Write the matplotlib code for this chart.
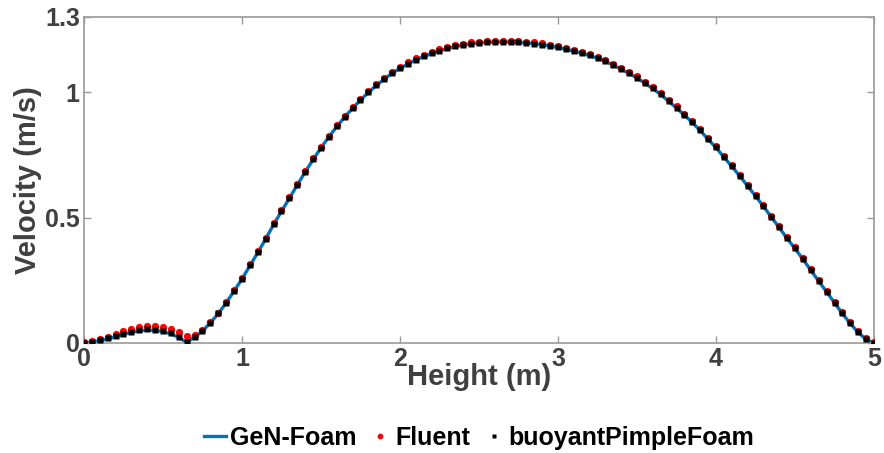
import numpy as np
import matplotlib.pyplot as plt

# Heights (m), sampled every 0.05 m
height = np.linspace(0, 5, 101)

# buoyantPimpleFoam (black squares)
bpf = [0.000, 0.004, 0.010, 0.019, 0.028, 0.037, 0.045, 0.051, 0.054, 0.053,
       0.048, 0.039, 0.025, 0.004, 0.025, 0.049, 0.081, 0.118, 0.161, 0.208,
       0.256, 0.309, 0.361, 0.416, 0.473, 0.526, 0.578, 0.631, 0.683, 0.732,
       0.779, 0.823, 0.864, 0.902, 0.937, 0.970, 1.000, 1.028, 1.053, 1.077,
       1.096, 1.114, 1.130, 1.143, 1.156, 1.166, 1.175, 1.183, 1.189, 1.194,
       1.197, 1.199, 1.201, 1.201, 1.201, 1.199, 1.197, 1.194, 1.190, 1.185,
       1.179, 1.172, 1.165, 1.156, 1.147, 1.136, 1.125, 1.109, 1.093, 1.076,
       1.058, 1.037, 1.015, 0.992, 0.965, 0.938, 0.910, 0.880, 0.848, 0.813,
       0.780, 0.742, 0.705, 0.667, 0.627, 0.587, 0.546, 0.503, 0.461, 0.418,
       0.377, 0.335, 0.291, 0.247, 0.205, 0.161, 0.118, 0.078, 0.043, 0.015,
       0.000]

# Fluent (red dots)
fluent = [0.002, 0.006, 0.014, 0.024, 0.035, 0.046, 0.056, 0.063, 0.067, 0.068,
          0.064, 0.056, 0.043, 0.026, 0.031, 0.053, 0.084, 0.121, 0.164, 0.211,
          0.260, 0.313, 0.365, 0.420, 0.477, 0.530, 0.582, 0.635, 0.687, 0.736,
          0.783, 0.827, 0.868, 0.906, 0.941, 0.974, 1.004, 1.032, 1.058, 1.082,
          1.101, 1.119, 1.135, 1.148, 1.161, 1.171, 1.180, 1.188, 1.194, 1.199,
          1.202, 1.204, 1.206, 1.206, 1.206, 1.204, 1.202, 1.199, 1.195, 1.190,
          1.184, 1.177, 1.170, 1.161, 1.152, 1.141, 1.130, 1.114, 1.098, 1.081,
          1.063, 1.042, 1.020, 0.997, 0.970, 0.943, 0.915, 0.885, 0.853, 0.818,
          0.784, 0.746, 0.709, 0.671, 0.631, 0.591, 0.550, 0.507, 0.465, 0.422,
          0.381, 0.339, 0.295, 0.251, 0.209, 0.165, 0.122, 0.082, 0.046, 0.018,
          0.002]

# GeN-Foam (blue line)
genfoam = [0.000, 0.003, 0.008, 0.016, 0.025, 0.034, 0.042, 0.048, 0.051, 0.050,
           0.045, 0.036, 0.022, 0.002, 0.024, 0.048, 0.080, 0.117, 0.160, 0.207,
           0.255, 0.308, 0.360, 0.415, 0.472, 0.525, 0.577, 0.630, 0.682, 0.731,
           0.778, 0.822, 0.863, 0.901, 0.936, 0.969, 0.999, 1.027, 1.052, 1.076,
           1.095, 1.113, 1.129, 1.142, 1.155, 1.165, 1.174, 1.182, 1.188, 1.193,
           1.196, 1.198, 1.200, 1.200, 1.200, 1.198, 1.196, 1.193, 1.189, 1.184,
           1.178, 1.171, 1.164, 1.155, 1.146, 1.135, 1.124, 1.108, 1.092, 1.075,
           1.057, 1.036, 1.014, 0.991, 0.964, 0.937, 0.909, 0.879, 0.847, 0.812,
           0.779, 0.741, 0.704, 0.666, 0.626, 0.586, 0.545, 0.502, 0.460, 0.417,
           0.376, 0.334, 0.290, 0.246, 0.204, 0.160, 0.117, 0.077, 0.042, 0.014,
           0.000]

x_ticks = [0, 1, 2, 3, 4, 5]
y_ticks = [0, 0.5, 1, 1.3]
y_tick_labels = ['0', '0.5', '1', '1.3']

plt.rcParams['font.family'] = ['Liberation Sans', 'DejaVu Sans']
plt.rcParams['font.weight'] = 'bold'

fig = plt.figure(figsize=(8.84, 4.53), dpi=100)
ax = fig.add_axes([0.095, 0.243, 0.8937, 0.7195])

ax.plot(height, genfoam, color='#0072BD', lw=2.4, label='GeN-Foam', zorder=2)
ax.plot(height, fluent, 'o', color='red', ms=5.2, mec='none', label='Fluent', zorder=3)
ax.plot(height, bpf, 's', color='black', ms=4.0, mec='none', label='buoyantPimpleFoam', zorder=4)

ax.set_xlim(0, 5)
ax.set_ylim(0, 1.3)
ax.set_xticks(x_ticks)
ax.set_yticks(y_ticks)
ax.set_yticklabels(y_tick_labels)

gray = '#9a9a9a'
txt = '#404040'
for s in ax.spines.values():
    s.set_color(gray)
    s.set_linewidth(1.2)
ax.tick_params(direction='in', length=5, width=1, colors=gray,
               top=True, right=True, labelsize=18, labelcolor=txt, pad=3)
for lab in ax.get_xticklabels() + ax.get_yticklabels():
    lab.set_fontweight('bold')

ax.set_xlabel('Height (m)', fontsize=21, fontweight='bold', color=txt, labelpad=-6)
ax.set_ylabel('Velocity (m/s)', fontsize=21, fontweight='bold', color=txt, labelpad=2)

leg = ax.legend(loc='upper center', bbox_to_anchor=(0.5, -0.2), ncol=3, frameon=False,
                fontsize=18, handlelength=0.9, handletextpad=0.15, columnspacing=0.5,
                markerscale=0.8, borderpad=0.2)
for t in leg.get_texts():
    t.set_fontweight('bold')

fig.savefig('out.png', dpi=100)
